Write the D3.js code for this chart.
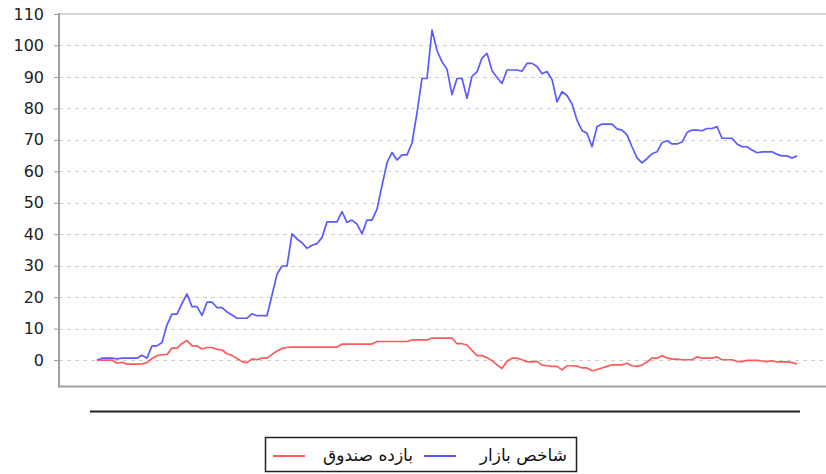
<!DOCTYPE html>
<html>
<head>
<meta charset="utf-8">
<script src="https://cdn.jsdelivr.net/npm/d3@7"></script>
<style>
  body { margin: 0; background: #fff; }
  svg { display: block; font-family: "DejaVu Sans", sans-serif; }
</style>
</head>
<body>
<div id="chart"></div>
<script>
// series, one value per sample step
var marketIndex = [
  0, 0.6, 0.6, 0.6, 0.4, 0.6, 0.6, 0.6, 0.6, 1.5,
  0.6, 4.5, 4.5, 5.6, 11.2, 14.6, 14.6, 18, 21, 17,
  17, 14.2, 18.4, 18.4, 16.7, 16.7, 15.3, 14.3, 13.3, 13.3,
  13.3, 14.7, 14.1, 14.1, 14.1, 20.7, 27.3, 29.9, 29.9, 40.1,
  38.5, 37.3, 35.5, 36.5, 37, 39, 43.9, 43.9, 43.9, 47.2,
  43.8, 44.5, 43.2, 40.1, 44.5, 44.5, 48, 55.5, 62.7, 66,
  63.6, 65.2, 65.2, 69, 78.6, 89.5, 89.5, 104.9, 98.4, 94.8,
  92.4, 84.4, 89.5, 89.5, 83.2, 90.2, 91.6, 96, 97.5, 92,
  89.8, 87.9, 92.2, 92.2, 92.2, 91.8, 94.3, 94.3, 93.3, 91,
  91.7, 89.2, 82.1, 85.3, 84.1, 81.4, 76.3, 73, 72.1, 67.8,
  74.2, 75, 75, 75, 73.5, 73.1, 71.6, 67.8, 64.3, 62.7,
  64, 65.6, 66.2, 69.1, 69.7, 68.7, 68.7, 69.3, 72.3, 73.1,
  73.1, 72.9, 73.6, 73.6, 74.2, 70.5, 70.5, 70.5, 68.7, 67.8,
  67.8, 66.8, 65.9, 66.2, 66.2, 66.2, 65.4, 64.9, 64.9, 64.2,
  64.9
]
var fundReturn = [
  0, 0, 0, 0, -1, -0.7, -1.3, -1.3, -1.3, -1.2,
  -0.8, 0.5, 1.4, 1.7, 1.8, 3.8, 3.8, 5.3, 6.2, 4.5,
  4.5, 3.5, 4, 4, 3.4, 3.2, 2, 1.5, 0.5, -0.5,
  -0.8, 0.4, 0.1, 0.6, 0.6, 1.8, 2.9, 3.7, 4, 4.1,
  4.1, 4.1, 4.1, 4.1, 4.1, 4.1, 4.1, 4.1, 4.1, 5.1,
  5.1, 5.1, 5.1, 5.1, 5.1, 5.1, 5.9, 5.9, 5.9, 5.9,
  5.9, 5.9, 5.9, 6.4, 6.4, 6.4, 6.4, 7, 7, 7,
  7, 7, 5.2, 5.2, 4.8, 3.1, 1.4, 1.4, 0.8, -0.2,
  -1.5, -2.7, -0.4, 0.6, 0.6, 0.1, -0.5, -0.6, -0.4, -1.6,
  -1.8, -2, -2, -3.1, -1.8, -1.8, -1.9, -2.5, -2.5, -3.4,
  -3, -2.5, -2, -1.5, -1.5, -1.5, -1, -1.8, -2, -1.6,
  -0.6, 0.6, 0.6, 1.4, 0.7, 0.3, 0.3, 0.1, 0.1, 0.1,
  1, 0.6, 0.6, 0.6, 1, 0.1, 0.1, 0.1, -0.4, -0.5,
  -0.1, -0.1, -0.1, -0.3, -0.5, -0.2, -0.6, -0.6, -0.6, -0.8,
  -1.2
]
var seriesNames = ["شاخص بازار", "بازده صندوق"]
var yTicks = [0, 10, 20, 30, 40, 50, 60, 70, 80, 90, 100, 110]

var width = 826, height = 474
var plot = { left: 59, top: 14, right: 826, bottom: 386.5 }

var svg = d3.select("#chart").append("svg")
  .attr("width", width)
  .attr("height", height)

var xScale = d3.scaleLinear()
  .domain([0, marketIndex.length - 1])
  .range([97, 797])
var yScale = d3.scaleLinear()
  .domain([-8.4, 110])
  .range([plot.bottom, plot.top])

// dashed grid
svg.append("g").selectAll("line")
  .data(yTicks.filter(function(d) { return d < 110 }))
  .enter().append("line")
  .attr("x1", plot.left).attr("x2", plot.right)
  .attr("y1", function(d) { return Math.round(yScale(d)) + 0.5 })
  .attr("y2", function(d) { return Math.round(yScale(d)) + 0.5 })
  .attr("stroke", "#cfcfcf")
  .attr("stroke-dasharray", "4,4")

// frame
svg.append("line")
  .attr("x1", plot.left).attr("x2", plot.right)
  .attr("y1", plot.top).attr("y2", plot.top)
  .attr("stroke", "#c8c8c8").attr("stroke-width", 1.5)
svg.append("line")
  .attr("x1", plot.left).attr("x2", plot.right)
  .attr("y1", plot.bottom).attr("y2", plot.bottom)
  .attr("stroke", "#a0a0a0").attr("stroke-width", 2)

// y axis
var yAxis = svg.append("g")
  .attr("transform", "translate(" + plot.left + ",0)")
  .call(d3.axisLeft(yScale).tickValues(yTicks).tickSize(5).tickPadding(10))
yAxis.select(".domain").remove()
yAxis.selectAll(".tick line").attr("stroke", "#999")
yAxis.selectAll(".tick text")
  .attr("fill", "#222")
  .style("font-size", "16px")
  .style("font-family", "DejaVu Sans")
svg.append("line")
  .attr("x1", plot.left).attr("x2", plot.left)
  .attr("y1", plot.top - 1).attr("y2", plot.bottom + 1)
  .attr("stroke", "#a0a0a0").attr("stroke-width", 2)

// lines
var line = d3.line()
  .x(function(d, i) { return xScale(i) })
  .y(function(d) { return yScale(d) })

svg.append("path")
  .attr("d", line(fundReturn))
  .attr("fill", "none")
  .attr("stroke", "#ff5a5a")
  .attr("stroke-width", 1.7)
  .attr("stroke-linejoin", "round")

svg.append("path")
  .attr("d", line(marketIndex))
  .attr("fill", "none")
  .attr("stroke", "#5a5aff")
  .attr("stroke-width", 1.7)
  .attr("stroke-linejoin", "round")

// separator under the plot
svg.append("line")
  .attr("x1", 90).attr("x2", 800)
  .attr("y1", 411.5).attr("y2", 411.5)
  .attr("stroke", "#222").attr("stroke-width", 2)

// legend
var legend = svg.append("g")
legend.append("rect")
  .attr("x", 265.5).attr("y", 437.5)
  .attr("width", 311).attr("height", 34)
  .attr("fill", "#fff")
  .attr("stroke", "#222")
  .attr("stroke-width", 1.5)

var legendItems = [
  { name: seriesNames[0], color: "#5a5aff", textRight: 567, lineX: 424 },
  { name: seriesNames[1], color: "#ff5a5a", textRight: 413, lineX: 273 }
]
legendItems.forEach(function(item) {
  legend.append("line")
    .attr("x1", item.lineX).attr("x2", item.lineX + 32)
    .attr("y1", 456).attr("y2", 456)
    .attr("stroke", item.color).attr("stroke-width", 2)
  legend.append("text")
    .attr("x", item.textRight).attr("y", 461)
    .attr("text-anchor", "end")
    .attr("fill", "#111")
    .style("font-size", "17px")
    .text(item.name)
})
</script>
</body>
</html>
